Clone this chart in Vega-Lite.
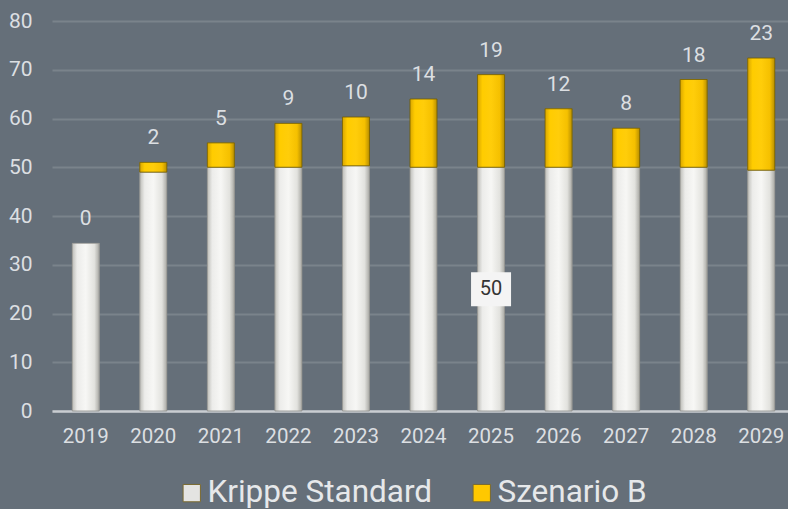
{
  "$schema": "https://vega.github.io/schema/vega-lite/v6.json",
  "width": 743,
  "height": 390,
  "padding": {"left": 8, "top": 10, "right": 0, "bottom": 0},
  "background": "#656f79",
  "config": {
    "view": {"stroke": null},
    "font": "Roboto",
    "axis": {"labelFont": "Roboto", "labelColor": "#dcdfe2", "titleColor": "#dcdfe2"}
  },
  "data": {
    "values": [
      {"year": "2019", "series": "Krippe Standard", "value": 34.4},
      {"year": "2019", "series": "Szenario B", "value": 0},
      {"year": "2020", "series": "Krippe Standard", "value": 49},
      {"year": "2020", "series": "Szenario B", "value": 2},
      {"year": "2021", "series": "Krippe Standard", "value": 50},
      {"year": "2021", "series": "Szenario B", "value": 5},
      {"year": "2022", "series": "Krippe Standard", "value": 50},
      {"year": "2022", "series": "Szenario B", "value": 9},
      {"year": "2023", "series": "Krippe Standard", "value": 50.3},
      {"year": "2023", "series": "Szenario B", "value": 10},
      {"year": "2024", "series": "Krippe Standard", "value": 50},
      {"year": "2024", "series": "Szenario B", "value": 14},
      {"year": "2025", "series": "Krippe Standard", "value": 50},
      {"year": "2025", "series": "Szenario B", "value": 19},
      {"year": "2026", "series": "Krippe Standard", "value": 50},
      {"year": "2026", "series": "Szenario B", "value": 12},
      {"year": "2027", "series": "Krippe Standard", "value": 50},
      {"year": "2027", "series": "Szenario B", "value": 8},
      {"year": "2028", "series": "Krippe Standard", "value": 50},
      {"year": "2028", "series": "Szenario B", "value": 18},
      {"year": "2029", "series": "Krippe Standard", "value": 49.4},
      {"year": "2029", "series": "Szenario B", "value": 23}
    ]
  },
  "transform": [
    {"stack": "value", "groupby": ["year"], "sort": [{"field": "series", "order": "ascending"}], "as": ["v0", "v1"]},
    {"calculate": "(datum.v0 + datum.v1) / 2", "as": "vmid"}
  ],
  "encoding": {
    "x": {
      "field": "year", "type": "ordinal",
      "scale": {"paddingInner": 0, "paddingOuter": 0},
      "axis": {
        "title": null, "labelAngle": 0, "labelFontSize": 20.5, "labelPadding": 15,
        "ticks": false, "domain": true, "domainColor": "#c9cdd1", "domainWidth": 2.5, "grid": false
      }
    }
  },
  "layer": [
    {
      "mark": {"type": "bar", "width": {"band": 0.4}},
      "encoding": {
        "y": {
          "field": "v0", "type": "quantitative",
          "scale": {"domain": [0, 80], "nice": false},
          "axis": {
            "title": null, "values": [0, 10, 20, 30, 40, 50, 60, 70, 80], "labelFontSize": 21,
            "labelPadding": 20, "ticks": false, "domain": false,
            "grid": true, "gridColor": "#ffffff", "gridOpacity": 0.14, "gridWidth": 2
          }
        },
        "y2": {"field": "v1"},
        "color": {
          "field": "series", "type": "nominal",
          "scale": {"domain": ["Krippe Standard", "Szenario B"], "range": ["#e4e4e2", "#ffc800"]},
          "legend": {
            "title": null, "orient": "none", "direction": "horizontal",
            "legendX": 124, "legendY": 456,
            "symbolType": "square", "symbolSize": 300, "symbolStrokeColor": "#7a6a30", "symbolStrokeWidth": 1,
            "labelFontSize": 31.5, "labelColor": "#e6e8ea", "labelFont": "Roboto", "labelOffset": 0,
            "labelLimit": 400, "columnPadding": 33, "symbolOpacity": 1
          }
        }
      }
    },
    {
      "transform": [{"filter": "datum.series === 'Krippe Standard'"}],
      "mark": {
        "type": "bar", "width": {"band": 0.4}, "stroke": "#8e8e8a", "strokeWidth": 0.8,
        "color": {
          "gradient": "linear", "x1": 0, "x2": 1, "y1": 0, "y2": 0,
          "stops": [
            {"offset": 0, "color": "#bdbdb8"},
            {"offset": 0.18, "color": "#ececea"},
            {"offset": 0.5, "color": "#f7f7f5"},
            {"offset": 0.82, "color": "#e2e2de"},
            {"offset": 1, "color": "#a9a9a4"}
          ]
        }
      },
      "encoding": {
        "y": {"field": "v0", "type": "quantitative"},
        "y2": {"field": "v1"}
      }
    },
    {
      "transform": [{"filter": "datum.series === 'Szenario B' && datum.value > 0"}],
      "mark": {
        "type": "bar", "width": {"band": 0.4}, "stroke": "#6e5a00", "strokeWidth": 0.8,
        "color": {
          "gradient": "linear", "x1": 0, "x2": 1, "y1": 0, "y2": 0,
          "stops": [
            {"offset": 0, "color": "#d9a600"},
            {"offset": 0.18, "color": "#ffcc00"},
            {"offset": 0.5, "color": "#ffcd0a"},
            {"offset": 0.82, "color": "#f5c000"},
            {"offset": 1, "color": "#b88f00"}
          ]
        }
      },
      "encoding": {
        "y": {"field": "v0", "type": "quantitative"},
        "y2": {"field": "v1"}
      }
    },
    {
      "transform": [{"filter": "datum.series === 'Szenario B'"}],
      "mark": {"type": "text", "baseline": "bottom", "dy": -14, "fontSize": 21, "color": "#dcdfe2", "font": "Roboto"},
      "encoding": {
        "y": {"field": "v1", "type": "quantitative"},
        "text": {"field": "value", "type": "quantitative", "format": "d"}
      }
    },
    {
      "transform": [{"filter": "datum.series === 'Krippe Standard' && datum.year === '2025'"}],
      "mark": {"type": "point", "shape": "M-1,-0.85H1V0.85H-1Z", "size": 1600, "filled": true, "color": "#f4f4f4", "opacity": 1},
      "encoding": {
        "y": {"field": "vmid", "type": "quantitative"}
      }
    },
    {
      "transform": [{"filter": "datum.series === 'Krippe Standard' && datum.year === '2025'"}],
      "mark": {"type": "text", "fontSize": 20, "color": "#333333", "font": "Roboto"},
      "encoding": {
        "y": {"field": "vmid", "type": "quantitative"},
        "text": {"field": "value", "type": "quantitative", "format": "d"}
      }
    }
  ]
}
